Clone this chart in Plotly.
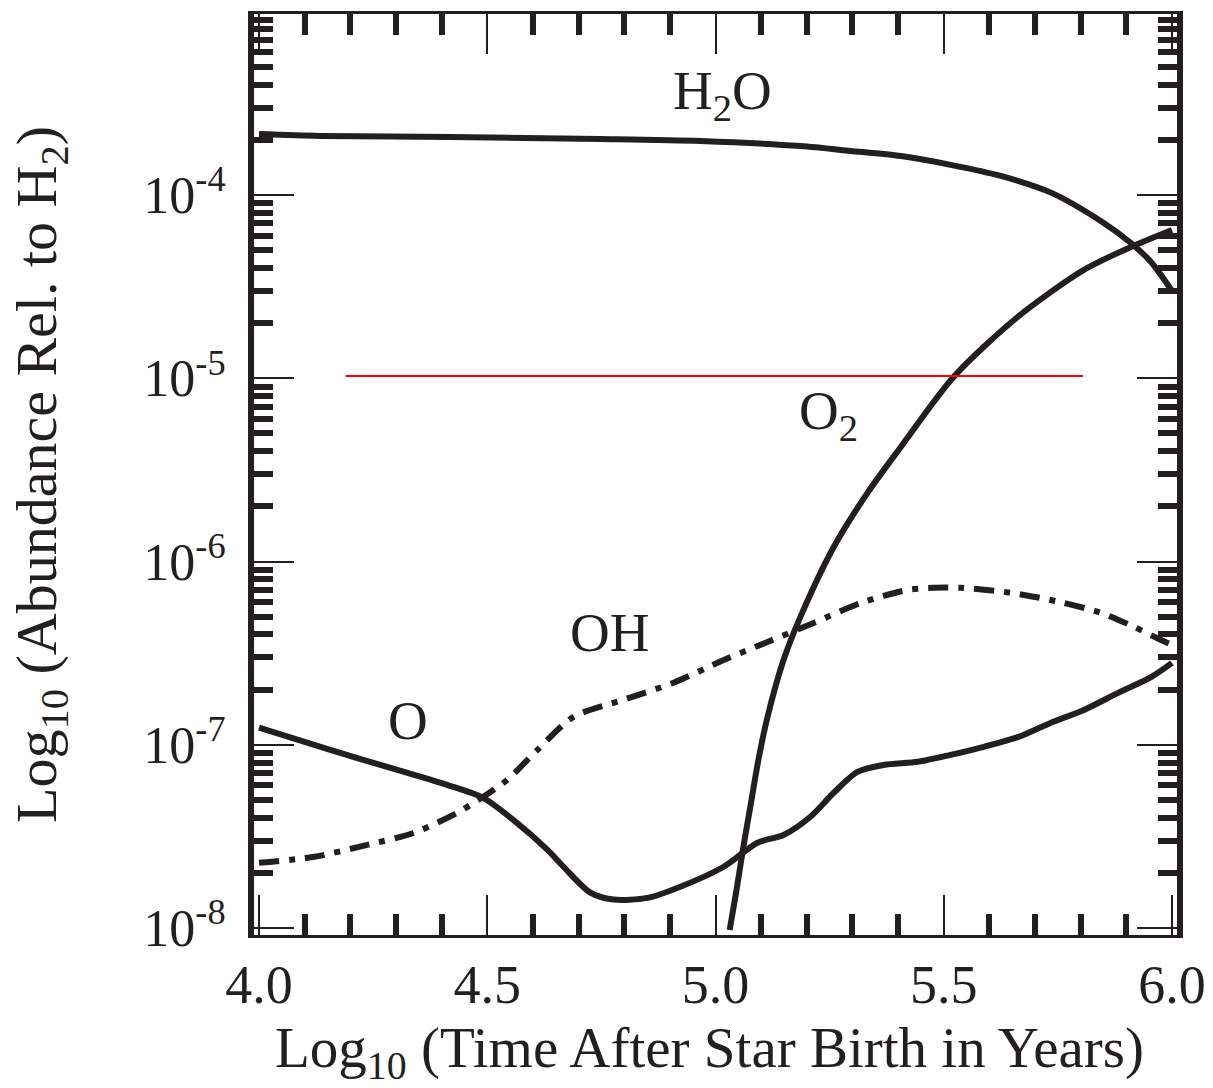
import plotly.graph_objects as go

# ---------------- data ----------------
h2o_x = [4.0, 4.134, 4.419, 4.748, 4.967, 5.186, 5.296, 5.406, 5.515, 5.625, 5.735, 5.844, 5.910, 5.954, 6.0]
h2o_y = [2.15e-4, 2.10e-4, 2.07e-4, 2.02e-4, 1.97e-4, 1.85e-4, 1.74e-4, 1.63e-4, 1.46e-4, 1.27e-4,
         1.03e-4, 7.21e-5, 5.47e-5, 4.31e-5, 3.0e-5]

o2_x = [5.031, 5.046, 5.061, 5.077, 5.094, 5.114, 5.149, 5.186, 5.259, 5.333, 5.406, 5.522,
        5.662, 5.807, 5.910, 6.0]
o2_y = [9.77e-9, 1.61e-8, 2.77e-8, 4.70e-8, 8.28e-8, 1.42e-7, 2.90e-7, 4.99e-7, 1.20e-6, 2.37e-6,
        4.22e-6, 1.02e-5, 2.16e-5, 3.90e-5, 5.20e-5, 6.44e-5]

o_x = [4.0, 4.156, 4.303, 4.412, 4.491, 4.557, 4.632, 4.667, 4.726, 4.776, 4.851, 4.923, 5.018,
       5.092, 5.149, 5.208, 5.259, 5.311, 5.368, 5.443, 5.515, 5.588, 5.662, 5.735, 5.807, 5.882, 5.954, 6.0]
o_y = [1.24e-7, 9.38e-8, 7.29e-8, 6.04e-8, 5.13e-8, 3.89e-8, 2.67e-8, 2.16e-8, 1.56e-8,
       1.43e-8, 1.46e-8, 1.68e-8, 2.16e-8, 2.92e-8, 3.22e-8, 4.05e-8, 5.47e-8, 7.11e-8, 7.76e-8,
       8.07e-8, 8.81e-8, 9.75e-8, 1.10e-7, 1.32e-7, 1.55e-7, 1.92e-7, 2.34e-7, 2.80e-7]

oh_x = [4.0, 4.118, 4.228, 4.338, 4.434, 4.491, 4.544, 4.610, 4.689, 4.798, 4.908, 5.018, 5.114, 5.215,
        5.318, 5.421, 5.478, 5.537, 5.647, 5.752, 5.844, 5.917, 5.976, 6.0]
oh_y = [2.27e-8, 2.44e-8, 2.81e-8, 3.30e-8, 4.25e-8, 5.20e-8, 6.44e-8, 9.38e-8, 1.42e-7, 1.76e-7,
        2.18e-7, 2.90e-7, 3.64e-7, 4.62e-7, 5.94e-7, 7.00e-7, 7.18e-7, 7.18e-7, 6.75e-7, 6.03e-7,
        5.25e-7, 4.40e-7, 3.73e-7, 3.51e-7]

ref_x = [4.19, 5.805]
ref_y = [1.03e-5, 1.03e-5]

x_ticks = [4.0, 4.5, 5.0, 5.5, 6.0]
x_ticktext = ["4.0", "4.5", "5.0", "5.5", "6.0"]
x_minor = [4.1, 4.2, 4.3, 4.4, 4.6, 4.7, 4.8, 4.9, 5.1, 5.2, 5.3, 5.4, 5.6, 5.7, 5.8, 5.9]
y_ticks = [1e-8, 1e-7, 1e-6, 1e-5, 1e-4]
y_ticktext = ["10<sup>-8</sup>", "10<sup>-7</sup>", "10<sup>-6</sup>", "10<sup>-5</sup>", "10<sup>-4</sup>"]
y_minor = [m * 10.0 ** e for e in range(-9, -3) for m in range(2, 10)]

labels = ["H<sub>2</sub>O", "O<sub>2</sub>", "OH", "O"]
label_x = [5.015, 5.248, 4.768, 4.327]
label_logy = [-3.45, -5.20, -6.39, -6.87]

x_title = "Log<sub>10</sub> (Time After Star Birth in Years)"
y_title = "Log<sub>10</sub> (Abundance Rel. to H<sub>2</sub>)"

# ---------------- figure ----------------
INK = "#231f20"
FONT = "Liberation Serif"

fig = go.Figure()
for xs, ys, dash in [(h2o_x, h2o_y, "solid"), (o2_x, o2_y, "solid"), (o_x, o_y, "solid"),
                     (oh_x, oh_y, "20px,10px,6px,10px")]:
    fig.add_trace(go.Scatter(x=xs, y=ys, mode="lines",
                             line=dict(color=INK, width=6, shape="spline", smoothing=0.8, dash=dash),
                             showlegend=False, hoverinfo="skip"))

fig.add_trace(go.Scatter(x=ref_x, y=ref_y, mode="lines", line=dict(color="#ff0000", width=2),
                         showlegend=False, hoverinfo="skip"))

for t, xx, yy in zip(labels, label_x, label_logy):
    fig.add_annotation(x=xx, y=yy, xref="x", yref="y", text=t, showarrow=False,
                       font=dict(family=FONT, size=55, color=INK))

# x-axis title as an annotation so it can sit low, as in the reference
fig.add_annotation(x=0.494, y=0, xref="paper", yref="paper", xanchor="center", yanchor="top",
                   yshift=-79, text=x_title, showarrow=False,
                   font=dict(family=FONT, size=57, color=INK))

fig.update_xaxes(
    range=[3.989, 6.011], showgrid=False, zeroline=False, automargin=False,
    showline=True, linecolor=INK, linewidth=3, mirror="allticks",
    tickmode="array", tickvals=x_ticks, ticktext=x_ticktext,
    ticks="inside", ticklen=40, tickwidth=2, tickcolor=INK,
    minor=dict(tickmode="array", tickvals=x_minor, ticks="inside", ticklen=21, tickwidth=6, tickcolor=INK),
    tickfont=dict(family=FONT, size=54, color=INK),
)
fig.update_yaxes(
    type="log", range=[-8.038, -3.0125], showgrid=False, zeroline=False, automargin=False,
    showline=True, linecolor=INK, linewidth=6, mirror="allticks",
    tickmode="array", tickvals=y_ticks, ticktext=y_ticktext,
    ticks="inside", ticklen=40, tickwidth=2, tickcolor=INK,
    minor=dict(tickmode="array", tickvals=y_minor, ticks="inside", ticklen=19, tickwidth=6, tickcolor=INK),
    tickfont=dict(family=FONT, size=52, color=INK), ticklabelstandoff=12,
    title=dict(text=y_title, font=dict(family=FONT, size=58, color=INK), standoff=70),
)

fig.update_layout(
    width=1213, height=1088,
    margin=dict(l=254, r=36, t=14, b=153),
    paper_bgcolor="white", plot_bgcolor="white",
)

fig.write_html("out.html")
